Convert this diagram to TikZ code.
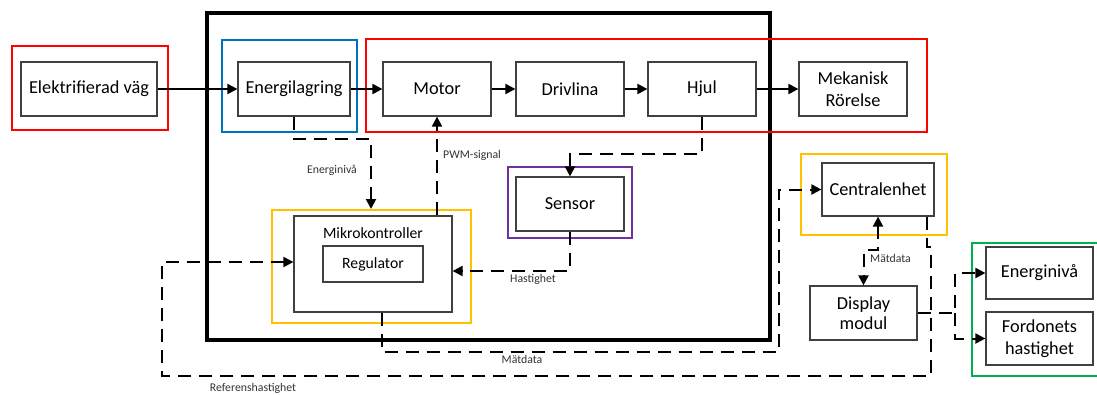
\documentclass[tikz,border=0pt]{standalone}
\usepackage{fontspec}
\setmainfont{Carlito}
\usetikzlibrary{arrows.meta}
\definecolor{fred}{RGB}{255,0,0}
\definecolor{fblue}{RGB}{0,112,192}
\definecolor{fyellow}{RGB}{255,192,0}
\definecolor{fpurple}{RGB}{112,48,160}
\definecolor{fgreen}{RGB}{0,176,80}
\definecolor{boxgray}{RGB}{64,64,64}
\begin{document}
\begin{tikzpicture}[x=1pt,y=-1pt,
 box/.style={draw=boxgray, line width=1.2pt, inner sep=0pt, align=center, font=\fontsize{18.3}{22}\selectfont},
 frame/.style={draw=#1, line width=2pt, inner sep=0pt},
 tipped/.style={-{Triangle[length=10pt,width=10pt]}},
 conn/.style={line width=2pt, tipped},
 dsh/.style={line width=2pt, dash pattern=on 13pt off 8pt},
 lbl/.style={font=\fontsize{11.8}{14}\selectfont, text=black!80, inner sep=0pt},
]
\useasboundingbox (0,0) rectangle (1097,394);

% frames
\node[frame=black, line width=4.5pt, minimum width=563pt, minimum height=327pt] (big) at (488.5,176.5) {};
\node[frame=fred, minimum width=156pt, minimum height=84pt] (fr1) at (90,88) {};
\node[frame=fblue, minimum width=135pt, minimum height=92pt] (fbl) at (289.5,86) {};
\node[frame=fred, minimum width=561pt, minimum height=93pt] (fr2) at (646.5,85.5) {};
\node[frame=fyellow, minimum width=199pt, minimum height=113pt] (fy1) at (371.5,266.5) {};
\node[frame=fpurple, minimum width=124pt, minimum height=71pt] (fpu) at (570,202.5) {};
\node[frame=fyellow, minimum width=146pt, minimum height=81pt] (fy2) at (874,194.5) {};
\node[frame=fgreen, minimum width=130pt, minimum height=133pt] (fgr) at (1037,309.5) {};

% boxes
\node[box, minimum width=136pt, minimum height=54pt] (ev) at (89,89) {Elektrifierad väg};
\node[box, minimum width=112pt, minimum height=54pt] (energ) at (294,89) {Energilagring};
\node[box, minimum width=108pt, minimum height=54pt] (motor) at (437,89) {Motor};
\node[box, minimum width=108pt, minimum height=54pt] (driv) at (570,89) {Drivlina};
\node[box, minimum width=108pt, minimum height=54pt] (hjul) at (702,89) {Hjul};
\node[box, minimum width=108pt, minimum height=54pt] (mek) at (853,89) {Mekanisk\\Rörelse};
\node[box, minimum width=158pt, minimum height=96pt] (mikro) at (373,264) {};
\node[font=\fontsize{15.7}{18}\selectfont, inner sep=0pt] (mikrot) at (373,233) {Mikrokontroller};
\node[box, font=\fontsize{15.7}{18}\selectfont, minimum width=100pt, minimum height=36pt] (reg) at (373,264) {Regulator};
\node[box, minimum width=108pt, minimum height=54pt] (sensor) at (570,204) {Sensor};
\node[box, minimum width=112pt, minimum height=53pt] (central) at (878,189.5) {Centralenhet};
\node[box, minimum width=107pt, minimum height=54pt, font=\fontsize{18.3}{20}\selectfont] (display) at (863.5,313) {Display\\modul};
\node[box, minimum width=107pt, minimum height=52pt] (energi2) at (1039.5,273) {Energinivå};
\node[box, minimum width=107pt, minimum height=53pt] (ford) at (1039.5,338.5) {Fordonets\\hastighet};

% solid chain
\draw[conn] (ev.east) -- (energ.west);
\draw[conn] (energ.east) -- (motor.west);
\draw[conn] (motor.east) -- (driv.west);
\draw[conn] (driv.east) -- (hjul.west);
\draw[conn] (hjul.east) -- (mek.west);

% Energinivå
\coordinate (e1) at (294,139);
\coordinate (e2) at (371,139);
\draw[dsh, tipped] (energ.south) -- (e1) -- (e2) -- (e2 |- fy1.north);
\node[lbl] (lenergi) at (332,170) {Energinivå};

% PWM
\draw[dsh, tipped] (mikro.north -| motor.south) -- (motor.south);
\node[lbl, anchor=west] (lpwm) at (443,155) {PWM-signal};

% Hjul -> Sensor
\coordinate (h1) at (702,154);
\draw[dsh, tipped] (hjul.south) -- (h1) -| (sensor.north);

% Sensor -> Mikro
\coordinate (s1) at (570,271);
\draw[dsh, tipped] (sensor.south) -- (s1) -- (s1 -| mikro.east);
\node[lbl] (lhast) at (533,279) {Hastighet};

% Mikro -> Centralenhet
\coordinate (m1) at (382,352);
\coordinate (m2) at (779,352);
\draw[dsh, tipped] (mikro.south -| m1) -- (m1) -- (m2) |- (central.west);
\node[lbl] (lmat1) at (522,359) {Mätdata};

% Central <-> Display
\coordinate (c1) at (878,250);
\draw[dsh, {Triangle[length=10pt,width=10pt]}-{Triangle[length=10pt,width=10pt]}] (central.south) -- (c1) -| (display.north);
\node[lbl, anchor=west] (lmat2) at (870,258) {Mätdata};

% Referenshastighet
\coordinate (r1) at (927,247);
\coordinate (r2) at (931,247);
\coordinate (r3) at (931,376);
\coordinate (r4) at (162,376);
\coordinate (r5) at (162,262);
\draw[dsh, tipped] (central.south -| r1) -- (r1) -- (r2) -- (r3) -- (r4) -- (r5) -- (r5 -| mikro.west);
\node[lbl] (lref) at (253,388) {Referenshastighet};

% Display outputs
\coordinate (d1) at (955,313);
\draw[dsh, tipped] (display.east) -- (d1) |- (energi2.west);
\draw[dsh, tipped] (d1) |- (ford.west);
\end{tikzpicture}
\end{document}
